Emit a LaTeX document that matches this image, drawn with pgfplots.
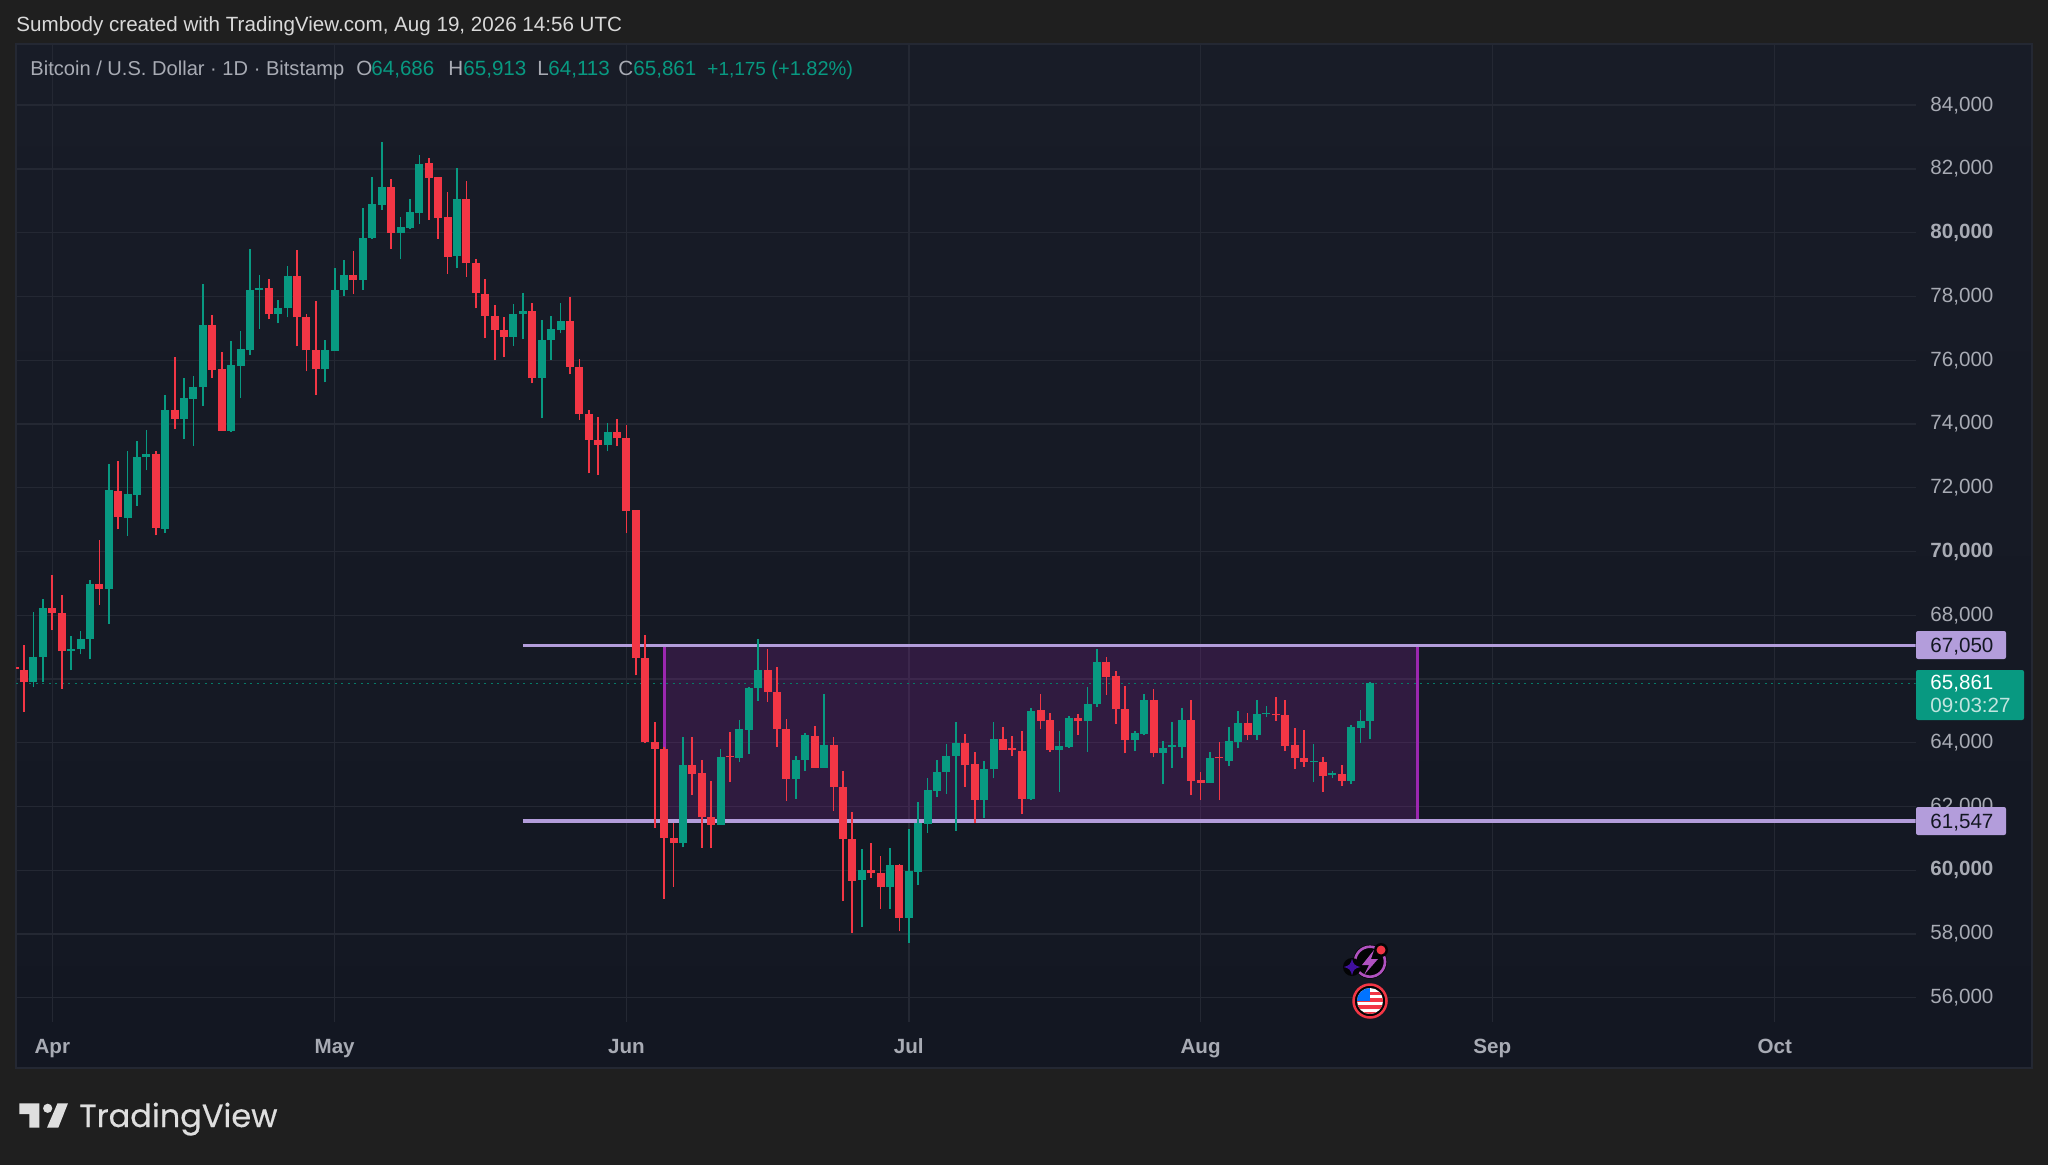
\documentclass[border=0pt]{standalone}
\usepackage{fontspec}
\usepackage{pgfplots}
\usepackage{pgfplotstable}
\pgfplotsset{compat=1.18}
\setmainfont{Liberation Sans}
\newfontfamily\logofont{Poppins}[FakeBold=0.4]
\definecolor{outer}{HTML}{1F1F1F}
\definecolor{paneltop}{HTML}{181C27}
\definecolor{panelbot}{HTML}{131722}
\definecolor{gridc}{HTML}{242833}
\definecolor{cgreen}{HTML}{089981}
\definecolor{cred}{HTML}{F23645}
\definecolor{lav}{HTML}{B39DDB}
\definecolor{purp}{HTML}{9C27B0}
\definecolor{txt}{HTML}{A8ABB4}
\newcommand\fa{\fontsize{10.3pt}{12pt}\selectfont}
\pgfplotstableread{
d o h l c
-2 65920 68104 65752 66700
-1 66700 68512 65920 68212
2 66868 67336 66280 66940
3 66928 67504 66772 67252
4 67264 69100 66616 68992
6 68824 72748 67720 71932
8 71044 73156 70480 71800
9 71764 73456 71428 72976
10 72952 73804 72544 73060
12 70720 74908 70588 74428
14 74152 75436 73516 74812
15 74788 75520 73312 75172
16 75148 78376 74560 77116
19 73792 76588 73756 75856
20 75832 76924 74812 76348
21 76324 79480 76156 78196
22 78196 78688 76984 78256
24 77440 77896 77152 77644
25 77632 78964 77344 78652
29 75712 76624 75304 76312
30 76295 78907 76295 78217
31 78207 79137 78029 78677
33 78531 80767 78207 79827
34 79837 81760 79806 80892
35 80882 82836 80725 81436
37 79983 80485 79168 80171
38 80161 81049 80130 80642
39 80631 82450 80266 82167
43 79273 82042 78886 81070
49 76733 77757 76441 77444
50 77465 78102 76650 77528
52 75427 77266 74173 76629
53 76619 77402 76012 76974
54 76953 77810 76838 77245
59 73337 74016 73139 73755
67 60840 64186 60717 63291
71 61422 63817 61422 63537
73 63526 64723 63403 64443
74 64410 65741 63649 65708
75 65708 67241 65305 66267
79 62877 63593 62239 63470
80 63470 64309 63123 64231
82 63212 65540 63212 63929
86 59699 60650 58233 60001
89 59464 60684 58792 60158
91 58508 61291 57724 59973
92 59952 62138 59533 61468
93 61458 62891 61176 62504
94 62483 63456 62295 63069
95 63090 63947 62399 63581
96 63581 64659 61238 63989
99 62211 63435 61646 63173
100 63163 64659 62881 64115
104 62232 65077 62211 64993
107 63780 64355 62462 63895
108 63874 64837 63843 64784
110 64669 65747 63717 65213
111 65203 66939 65129 66521
115 64083 64376 63749 64293
116 64272 65516 64230 65339
118 63675 64042 62703 63832
119 63874 64659 63215 63916
120 63874 65077 63529 64711
123 62745 63707 62745 63508
125 63435 64481 63278 64042
126 64031 64993 63822 64606
128 64251 65339 64094 64889
129 64889 65140 64805 64931
134 63393 63947 62765 63435
136 62996 63100 62880 63037
138 62807 64544 62703 64481
139 64470 65025 63989 64669
140 64686 65913 64113 65861
}\greendata
\pgfplotstableread{
d o h l c
-4 66376 66376 66328 66328
-3 66280 67072 64960 65920
0 68212 69256 67528 68068
1 68068 68632 65680 66868
5 68992 70348 68320 68824
7 71908 72832 70696 71080
11 73060 73156 70504 70732
13 74440 76108 73852 74152
17 77116 77428 75436 75700
18 75736 76264 73792 73792
23 78256 78556 77284 77440
26 78652 79468 76432 77344
27 77356 77464 75652 76312
28 76312 77872 74920 75712
32 78677 79419 78071 78531
36 81436 81676 79503 79994
40 82188 82345 80412 81729
41 81739 81760 79816 80475
42 80485 81279 78719 79252
44 81070 81624 78614 79043
45 79053 79168 77622 78102
46 78092 78541 76681 77402
47 77402 77737 75992 76932
48 76942 77360 76086 76733
51 77549 77810 75270 75427
55 77245 77977 75553 75793
56 75793 76033 74131 74309
57 74309 74445 72449 73494
58 73494 74225 72397 73337
60 73755 74152 73295 73546
61 73557 73975 70568 71279
62 71292 71292 66111 66648
63 66648 67386 63985 64007
64 64029 64656 61332 63805
65 63805 63873 59106 61019
66 61019 61489 59486 60840
68 63291 64186 62362 63022
69 63056 63470 60706 61657
70 61657 62810 60684 61422
72 63571 64343 62765 63537
76 66267 66939 65283 65596
77 65596 66379 63861 64432
78 64443 64745 62172 62877
81 64197 64510 63212 63212
83 63929 64186 61858 62619
84 62619 63123 59027 60975
85 60975 61836 58032 59665
87 60012 60851 59755 59912
88 59923 60437 58792 59464
90 60161 60192 58090 58508
97 63989 64261 62619 63288
98 63330 63707 61468 62211
101 64115 64481 63780 63780
102 63822 64219 63592 63780
103 63738 64376 61761 62242
105 65014 65527 64429 64690
106 64711 64931 63717 63780
109 64784 64910 64251 64669
112 66521 66698 65506 66071
113 66092 66259 64596 65056
114 65056 65778 63665 64083
117 65339 65684 63540 63665
121 64711 65339 62357 62807
122 62818 63069 62201 62745
124 63539 64021 62201 63508
127 64606 64931 64094 64240
130 64910 65422 64690 64857
131 64857 65339 63749 63906
132 63916 64460 63173 63529
133 63529 64397 63236 63393
135 63403 63560 62462 62964
137 63017 63299 62650 62807
}\reddata
\begin{document}
\begin{tikzpicture}[x=0.5pt,y=-0.5pt,font=\fa]
\path[use as bounding box,fill=outer] (0,0) rectangle (2048,1165);
\path[top color=paneltop,bottom color=panelbot,draw=gridc,line width=0.75pt] (16,44) rectangle (2032,1068);
\begin{axis}[
  at={(8pt,-511pt)},anchor=south west,
  scale only axis,width=949.75pt,height=489pt,
  xmin=-3.857,xmax=197.96,ymin=55238,ymax=85920,
  axis line style={draw=none},
  major tick length=0pt,
  scaled y ticks=false,
  grid=major,grid style={color=gridc,line width=0.7pt},
  xtick={0,30,61,91,122,153,183},
  xticklabels={Apr,May,Jun,Jul,Aug,Sep,Oct},
  xticklabel style={anchor=base,yshift=-15.8pt,color=txt,font=\fa\bfseries,inner sep=0pt},
  ytick={56000,58000,60000,62000,64000,66000,68000,70000,72000,74000,76000,78000,80000,82000,84000},
  yticklabels={56{,}000,58{,}000,\textbf{60,000},62{,}000,64{,}000,,68{,}000,\textbf{70,000},72{,}000,74{,}000,76{,}000,78{,}000,\textbf{80,000},82{,}000,84{,}000},
  yticklabel pos=right,
  yticklabel style={anchor=west,xshift=7.25pt,color=txt,font=\fa,inner sep=0pt},
]
\addplot[fill=purp,fill opacity=0.2,draw=none,forget plot] coordinates {(65,61547)(65,67050)(145,67050)(145,61547)} --cycle;
\addplot[purp,line width=1.5pt,forget plot] coordinates {(65,61547)(65,67050)};
\addplot[purp,line width=1.5pt,forget plot] coordinates {(145,61547)(145,67050)};
\addplot[lav,line width=1.75pt,forget plot] coordinates {(50,67050)(197.96,67050)};
\addplot[lav,line width=1.75pt,forget plot] coordinates {(50,61547)(197.96,61547)};
\addplot[cgreen!80!black,line width=0.8pt,dash pattern=on 1pt off 2.25pt,forget plot] coordinates {(-3.857,65861)(197.96,65861)};
% wicks
\addplot[draw=none,mark=none,forget plot,error bars/.cd,y dir=plus,y explicit,error mark=none,error bar style={draw=cgreen,line width=0.85pt}] table[x=d,y=l,y error expr=\thisrow{h}-\thisrow{l}] {\greendata};
\addplot[draw=none,mark=none,forget plot,error bars/.cd,y dir=plus,y explicit,error mark=none,error bar style={draw=cred,line width=0.85pt}] table[x=d,y=l,y error expr=\thisrow{h}-\thisrow{l}] {\reddata};
% bodies
\addplot[draw=none,mark=none,forget plot,error bars/.cd,y dir=plus,y explicit,error mark=none,error bar style={draw=cgreen,line width=4pt}] table[x=d,y=o,y error expr=\thisrow{c}-\thisrow{o}] {\greendata};
\addplot[draw=none,mark=none,forget plot,error bars/.cd,y dir=plus,y explicit,error mark=none,error bar style={draw=cred,line width=4pt}] table[x=d,y=c,y error expr=\thisrow{o}-\thisrow{c}] {\reddata};
\end{axis}
% header
\node[anchor=base west,inner sep=0pt,text=white!85!black] at (16,32) {Sumbody created with TradingView.com, Aug 19, 2026 14:56 UTC};
\node[anchor=base west,inner sep=0pt,text=txt,font=\fontsize{10.05pt}{12pt}\selectfont] at (30,76) {Bitcoin / U.S. Dollar · 1D · Bitstamp};
\node[anchor=base west,inner sep=0pt,text=txt] at (356,76) {O};
\node[anchor=base west,inner sep=0pt,text=cgreen] at (371,76) {64,686};
\node[anchor=base west,inner sep=0pt,text=txt] at (448,76) {H};
\node[anchor=base west,inner sep=0pt,text=cgreen] at (463,76) {65,913};
\node[anchor=base west,inner sep=0pt,text=txt] at (537,76) {L};
\node[anchor=base west,inner sep=0pt,text=cgreen] at (548,76) {64,113};
\node[anchor=base west,inner sep=0pt,text=txt] at (618,76) {C};
\node[anchor=base west,inner sep=0pt,text=cgreen] at (633,76) {65,861};
\node[anchor=base west,inner sep=0pt,text=cgreen,font=\fontsize{9.5pt}{12pt}\selectfont] at (707,76) {+1,175};
\node[anchor=base west,inner sep=0pt,text=cgreen,font=\fontsize{10pt}{12pt}\selectfont] at (771,76) {(+1.82\%)};
% price labels
\fill[lav,rounded corners=1pt] (1916,631) rectangle (2006,659);
\node[anchor=base west,inner sep=0pt,text=panelbot] at (1930,652) {67,050};
\fill[cgreen,rounded corners=1pt] (1916,670) rectangle (2024,720);
\node[anchor=base west,inner sep=0pt,text=white] at (1930,689) {65,861};
\node[anchor=base west,inner sep=0pt,text=white!75!cgreen] at (1930,712) {09:03:27};
\fill[lav,rounded corners=1pt] (1916,807) rectangle (2006,835);
\node[anchor=base west,inner sep=0pt,text=panelbot] at (1930,828) {61,547};
% event icons
\fill[black!85!panelbot] (1370,961.7) circle[radius=17];
\draw[purp!80!white,line width=1.3pt] (1370,961.7) circle[radius=15];
\fill[purp!80!white] (1374,950) -- (1362,965) -- (1369,965) -- (1364,975) -- (1378,959) -- (1371,959) -- cycle;
\fill[black!85!panelbot] (1352,967) circle[radius=9];
\fill[blue!45!purp!75!black] (1352,958.5) .. controls (1353,964) and (1355,966) .. (1360.5,967) .. controls (1355,968) and (1353,970) .. (1352,975.5) .. controls (1351,970) and (1349,968) .. (1343.5,967) .. controls (1349,966) and (1351,964) .. cycle;
\fill[black!85!panelbot] (1381,950) circle[radius=7];
\fill[cred] (1381,950) circle[radius=4.5];
\fill[black!85!panelbot] (1370,1001) circle[radius=16.5];
\draw[cred,line width=1.25pt] (1370,1001) circle[radius=16.5];
\begin{scope}
\clip (1370,1001) circle[radius=13];
\fill[white] (1355,986) rectangle (1385,1016);
\fill[cred] (1355,992) rectangle (1385,995);
\fill[cred] (1355,998) rectangle (1385,1002);
\fill[cred] (1355,1005) rectangle (1385,1009);
\fill[cred] (1355,1012) rectangle (1385,1016);
\fill[blue!55!cyan] (1355,986) rectangle (1370,1001);
\end{scope}
% logo
\fill[white!87!black] (19.3,1103.3) -- (39.3,1103.3) -- (39.3,1127.7) -- (29.3,1127.7) -- (29.3,1114) -- (19.3,1114) -- cycle;
\fill[white!87!black] (47.7,1108.3) circle[radius=4.6];
\fill[white!87!black] (57.5,1103.3) -- (68,1103.3) -- (58.3,1127.7) -- (47,1127.7) -- cycle;
\node[anchor=base west,inner sep=0pt,text=white!87!black,font=\logofont\fontsize{16pt}{20pt}\selectfont] at (79,1127) {TradingView};
\end{tikzpicture}
\end{document}
